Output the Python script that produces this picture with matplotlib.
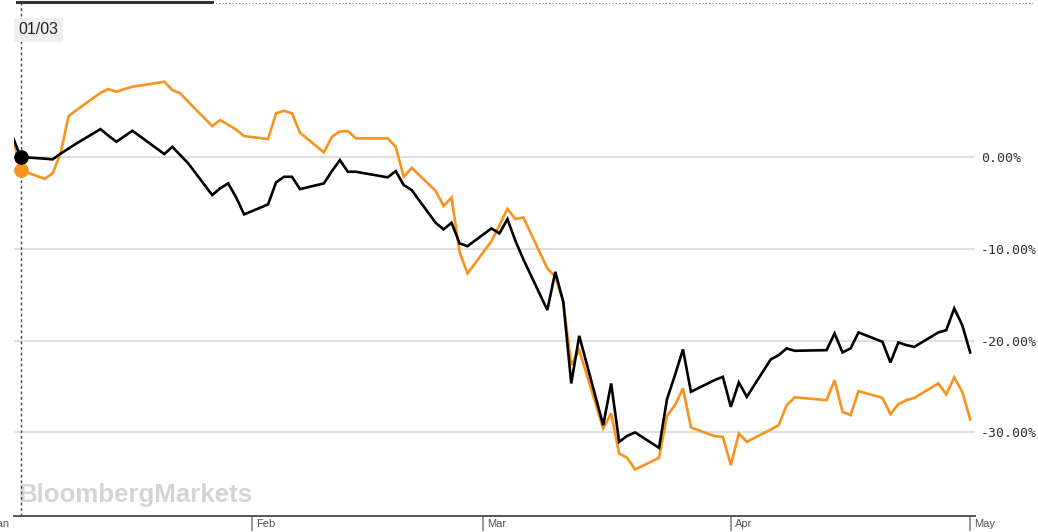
import pandas as pd
import matplotlib
matplotlib.use("Agg")
import matplotlib.pyplot as plt
from matplotlib.lines import Line2D

# trading days 2020-01-02 .. 2020-05-01 (US market holidays removed)
holidays = ["2020-01-20", "2020-02-17", "2020-04-10"]
dates = pd.bdate_range("2020-01-02", "2020-05-01")
dates = dates[~dates.isin(pd.to_datetime(holidays))]

# % change since 01/03
black_vals = [
    2.2, 0.0, -0.17, -0.25, 0.37, 0.93, 1.49, 3.05, 2.33, 1.67, 2.27, 2.87,
    0.33, 1.12, 0.22, -0.69, -4.14, -3.41, -2.87, -4.39, -6.25,
    -5.16, -2.76, -2.15, -2.15, -3.49, -2.87, -1.53, -0.33, -1.6, -1.6,
    -2.21, -1.53, -3.05, -3.6, -7.16, -7.88, -7.16, -9.41, -9.71,
    -7.78, -8.32, -6.76, -9.13, -11.15, -16.68, -12.51, -15.78, -24.68, -19.49,
    -29.23, -24.68, -31.05, -30.4, -30.02, -31.7, -26.39, -23.77, -20.97, -25.59,
    -24.3, -23.96,
    -27.23, -24.57, -26.14, -22.06, -21.59, -20.86, -21.12, -21.05, -19.23, -21.3,
    -20.86, -19.12, -20.14, -22.39, -20.21, -20.5, -20.69, -19.12, -18.87, -16.5,
    -18.32,
    -21.3,
]
orange_vals = [
    2.2, -1.42, -2.37, -1.78, 0.4, 4.47, 5.13, 7.01, 7.42, 7.12, 7.42, 7.67,
    8.21, 7.31, 6.95, 6.03, 3.38, 4.03, 3.53, 3.0, 2.29,
    1.96, 4.77, 5.05, 4.77, 2.65, 0.51, 2.21, 2.8, 2.84, 2.04,
    2.04, 1.12, -2.15, -1.17, -3.68, -5.34, -4.39, -10.33, -12.69,
    -9.16, -7.42, -5.64, -6.76, -6.58, -12.14, -13.05, -15.78, -22.68, -21.05,
    -29.59, -27.95, -32.31, -32.79, -34.06, -32.79, -28.21, -27.04, -25.22, -29.48,
    -30.43, -30.5,
    -33.59, -30.13, -31.05, -29.7, -29.23, -27.04, -26.2, -26.5, -24.32, -27.78,
    -28.14, -25.52, -26.25, -28.03, -26.94, -26.5, -26.25, -24.68, -25.88, -24.02,
    -25.59,
    -28.6,
]
ref_date = pd.Timestamp("2020-01-03")
yticks = [0, -10, -20, -30]
months = ["2020-01-01", "2020-02-01", "2020-03-01", "2020-04-01", "2020-05-01"]
month_names = ["Jan", "Feb", "Mar", "Apr", "May"]

W, H = 1038, 532
fig = plt.figure(figsize=(W / 100, H / 100), dpi=100)
ax = fig.add_axes([14 / W, 1 - 515.7 / H, (975 - 14) / W, (515.7 - 3) / H])

orange = "#f7931e"
ax.plot(dates, orange_vals, color=orange, lw=1.9, zorder=3, solid_joinstyle="miter")
ax.plot(dates, black_vals, color="black", lw=1.9, zorder=4, solid_joinstyle="miter")

i0 = list(dates).index(ref_date)
ax.plot([dates[i0]], [orange_vals[i0]], "o", ms=9.5, color=orange, zorder=5)
ax.plot([dates[i0]], [black_vals[i0]], "o", ms=9.5, color="black", zorder=6)

ax.axvline(ref_date, color="#444444", lw=1, linestyle=(0, (2, 2)), zorder=2)

ax.set_xlim(ref_date - pd.Timedelta(days=0.84), ref_date + pd.Timedelta(days=119.6))
ax.set_ylim(-39.1, 16.8)

# y axis on the right
ax.yaxis.tick_right()
ax.set_yticks(yticks)
ax.set_yticklabels([f"{v:.2f}%" for v in yticks], family="DejaVu Sans Mono",
                   fontsize=9.5, color="#333333")
ax.tick_params(axis="y", length=0, pad=4.3)
ax.grid(axis="y", color="#e0e0e0", lw=1.5, zorder=1)

# month ticks + labels (the first one is cut off at the left edge, as in the original)
mdates = pd.to_datetime(months)
ax.set_xticks(mdates[1:])
ax.set_xticklabels([])
ax.tick_params(axis="x", length=10.5, width=1.2, color="#888888", direction="out")
for d, name in zip(mdates, month_names):
    off = -12.7 if name == "Jan" else 4
    ax.annotate(name, xy=(d, 0), xycoords=("data", "axes fraction"),
                xytext=(off, -8), textcoords="offset pixels", ha="left", va="center",
                fontsize=8, color="#555555", family="Liberation Sans",
                annotation_clip=False)

for s in ["top", "left", "right"]:
    ax.spines[s].set_visible(False)
ax.spines["bottom"].set_color("#555555")
ax.spines["bottom"].set_linewidth(1.4)

# date box
ax.annotate("01/03", xy=(0, 1), xycoords="axes fraction", xytext=(24.5, -27),
            textcoords="offset pixels", ha="center", va="center", fontsize=11.5,
            color="#222222", family="Liberation Sans",
            bbox=dict(boxstyle="square,pad=0.3", fc="#efefef", ec="none"))

# watermark
ax.text(18 / W, 1 - 502 / H, "BloombergMarkets", transform=fig.transFigure,
        fontsize=18.6, fontweight="bold", color="#d4d4d4", family="Liberation Sans",
        va="baseline", ha="left", zorder=0)

# range bar on top
fig.add_artist(Line2D([17 / W, 212 / W], [1 - 2 / H, 1 - 2 / H], color="#333333",
                      lw=2.2, transform=fig.transFigure))
fig.add_artist(Line2D([212 / W, 1035 / W], [1 - 3 / H, 1 - 3 / H], color="#777777",
                      lw=0.8, linestyle=(0, (1, 2)), transform=fig.transFigure))

fig.savefig("out.png", dpi=100)
